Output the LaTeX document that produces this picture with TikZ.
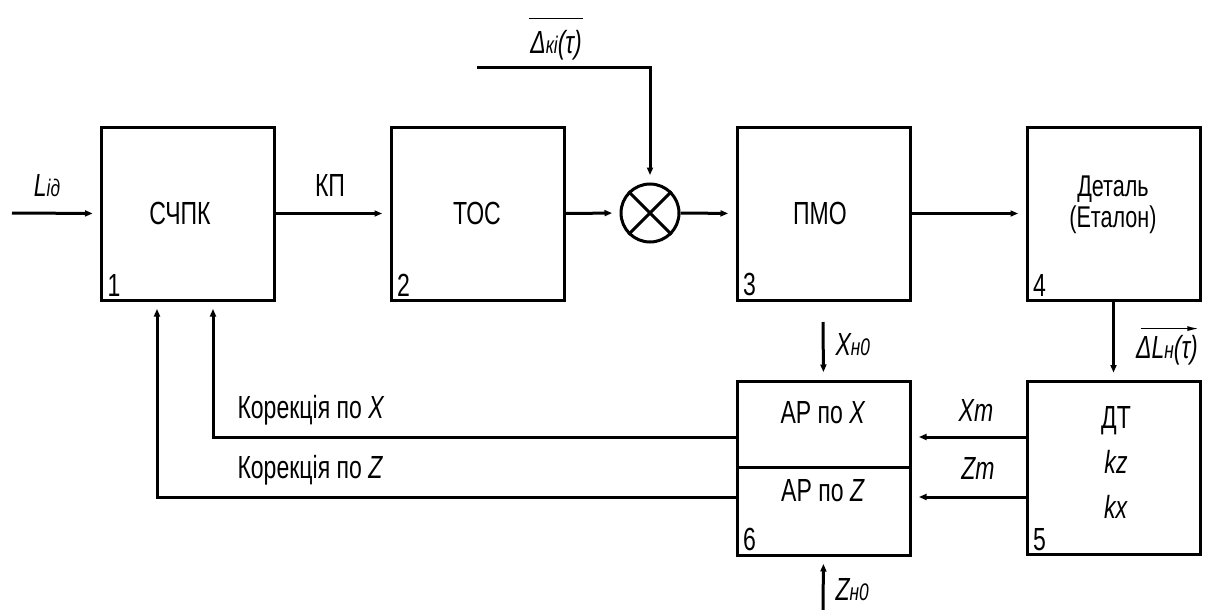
\documentclass[tikz,border=0pt]{standalone}
\usepackage{fontspec}
\setmainfont{Liberation Sans}[FakeStretch=0.72]
\usetikzlibrary{arrows.meta}
\newcommand\sbs[1]{{\fontsize{24}{24}\selectfont #1}}
\begin{document}
\begin{tikzpicture}[x=1pt,y=-1pt,line width=3pt,
  blk/.style={draw,minimum width=173pt,minimum height=173pt,inner sep=0pt},
  half/.style={draw,minimum width=173pt,inner sep=0pt},
  lbl/.style={font=\fontsize{32}{45}\selectfont,inner sep=0pt},
  num/.style={font=\fontsize{32}{36}\selectfont,inner sep=0pt,anchor=south west},
  arr/.style={-{Latex[length=15pt,width=6pt]}}]
\useasboundingbox (0,0) rectangle (1215,610);
% blocks
\node[blk] (b1) at (188,213.5) {};
\node[blk] (b2) at (477.5,213.5) {};
\node[blk] (b3) at (823.5,213.5) {};
\node[blk] (b4) at (1113.5,213.5) {};
\node[blk] (b5) at (1113.5,468) {};
\node[half,minimum height=86pt] (b6x) at (823.5,424) {};
\node[half,minimum height=88pt] (b6z) at (823.5,511) {};
\node[draw,circle,minimum size=58pt,inner sep=0pt] (sum) at (650,213) {};
\draw (sum.north west) -- (sum.south east) (sum.north east) -- (sum.south west);
% texts in blocks
\node[lbl] (t1) at (180,213) {СЧПК};
\node[lbl] (t2) at (477,213) {ТОС};
\node[lbl] (t3) at (820,213) {ПМО};
\node[lbl,align=center,font=\fontsize{30}{31}\selectfont] (t4) at (1113,205) {Деталь\\(Еталон)};
\node[lbl,align=center] (t5) at (1116,462) {ДТ\\\textit{kz}\\\textit{kx}};
\node[lbl] (t6x) at (823,413) {АР по \textit{X}};
\node[lbl] (t6z) at (823,491) {АР по \textit{Z}};
% numbers
\node[num] at ([xshift=6pt,yshift=4pt]b1.south west) {1};
\node[num] at ([xshift=6pt,yshift=4pt]b2.south west) {2};
\node[num] at ([xshift=6pt,yshift=4pt]b3.south west) {3};
\node[num] at ([xshift=6pt,yshift=4pt]b4.south west) {4};
\node[num] at ([xshift=6pt,yshift=4pt]b5.south west) {5};
\node[num] at ([xshift=6pt,yshift=4pt]b6z.south west) {6};
% forward path
\coordinate (in) at (12,213);
\draw[arr] (in) -- (b1.west);
\node[lbl] (lid) at (47,186) {\textit{L\sbs{ід}}};
\draw[arr] (b1.east) -- (b2.west);
\node[lbl] (kp) at (330,185) {КП};
\draw[arr] (b2.east) -- (sum.west);
\draw[arr] (sum.east) -- (b3.west);
\draw[arr] (b3.east) -- (b4.west);
% disturbance
\coordinate (dk) at (477,68);
\draw[arr] (dk) -| (sum.north);
\node[lbl] (dkl) at (556,45) {\textit{Δ\sbs{кі}(τ)}};
\draw[line width=1.6pt] ([yshift=10pt]dkl.north west) -- ([yshift=10pt]dkl.north east);
% detail to sensor
\draw[arr] (b4.south) -- (b5.north);
\node[lbl] (dl) at (1167,350) {\textit{ΔL\sbs{н}(τ)}};
\draw[line width=1.6pt,-{Latex[length=12pt,width=5pt]}] ([yshift=5pt,xshift=6pt]dl.north west) -- ([yshift=5pt]dl.north east);
% sensor to AR
\draw[arr] ([yshift=31pt]b5.west) -- ([yshift=-13pt]b6x.east);
\draw[arr] ([yshift=-29pt]b5.west) -- ([yshift=14pt]b6z.east);
\node[lbl] (xm) at (976,410) {\textit{Xm}};
\node[lbl] (zm) at (978,468) {\textit{Zm}};
% settings
\coordinate (xn) at (823,322);
\coordinate (zn) at (823,610);
\draw[arr] (xn) -- (b6x.north);
\draw[arr] (zn) -- (b6z.south);
\node[lbl,anchor=west] (xnl) at (834,345) {\textit{X\sbs{н0}}};
\node[lbl,anchor=west] (znl) at (834,590) {\textit{Z\sbs{н0}}};
% feedback
\draw[arr] ([yshift=-13pt]b6x.west) -| ([xshift=25pt]b1.south);
\draw[arr] ([yshift=14pt]b6z.west) -| ([xshift=-31pt]b1.south);
\node[lbl,anchor=west] (kx) at (236,410) {Корекція по \textit{X}};
\node[lbl,anchor=west] (kz) at (236,470) {Корекція по \textit{Z}};
\end{tikzpicture}
\end{document}
